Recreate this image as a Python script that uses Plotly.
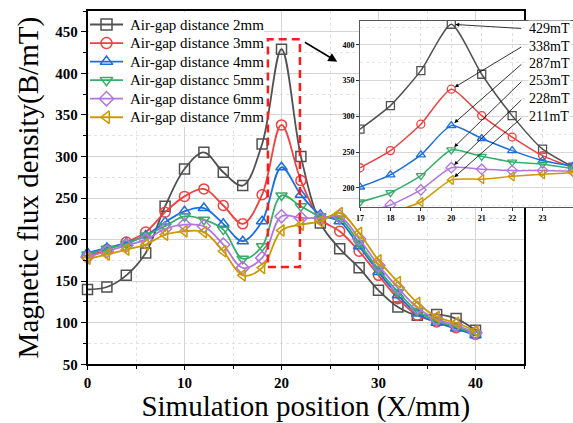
import plotly.graph_objects as go

# ---- data -------------------------------------------------------------
positions = [0, 2, 4, 6, 8, 10, 12, 14, 16, 18, 20, 22, 24, 26, 28, 30, 32, 34, 36, 38, 40]

gap_2mm = [140, 143, 157, 184, 240, 285, 305, 281, 265, 315, 429, 300, 220, 189, 166, 139, 119, 109, 110, 105, 91]
gap_3mm = [180, 188, 197, 209, 233, 252, 261, 241, 219, 254, 338, 271, 225, 210, 186, 157, 129, 109, 101, 94, 86]
gap_4mm = [184, 190, 196, 205, 221, 234, 238, 219, 198, 222, 287, 254, 230, 222, 192, 161, 133, 111, 100, 93, 85]
gap_5mm = [182, 189, 195, 205, 216, 228, 224, 212, 177, 192, 253, 240, 228, 225, 196, 164, 137, 114, 102, 95, 86]
gap_6mm = [179, 186, 193, 200, 213, 218, 216, 194, 166, 178, 228, 226, 226, 228, 201, 169, 142, 118, 104, 97, 88]
gap_7mm = [177, 182, 188, 194, 206, 210, 209, 186, 157, 166, 211, 218, 222, 232, 208, 175, 149, 124, 107, 100, 90]

# finer sampling around the peak (inset)
zoom_positions = [17, 18, 19, 20, 21, 22, 23, 24]
zoom_2mm = [282, 315, 364, 429, 359, 301, 254, 229]
zoom_3mm = [228, 252, 289, 338, 301, 271, 245, 228]
zoom_4mm = [201, 218, 246, 287, 269, 252, 238, 230]
zoom_5mm = [180, 193, 217, 253, 244, 236, 233, 227]
zoom_6mm = [164, 176, 197, 228, 226, 224, 224, 223]
zoom_7mm = [150, 165, 180, 211, 212, 216, 219, 221]

series_names = [
    "Air-gap distance 2mm",
    "Air-gap distance 3mm",
    "Air-gap distance 4mm",
    "Air-gap distancc 5mm",
    "Air-gap distance 6mm",
    "Air-gap distance 7mm",
]
main_series = [gap_2mm, gap_3mm, gap_4mm, gap_5mm, gap_6mm, gap_7mm]
zoom_series = [zoom_2mm, zoom_3mm, zoom_4mm, zoom_5mm, zoom_6mm, zoom_7mm]
colors = ["#515151", "#F14040", "#1A6FDF", "#37AD6B", "#B177DE", "#CC9900"]
symbols = ["square-open", "circle-open", "triangle-up-open", "triangle-down-open",
           "diamond-open", "triangle-left-open"]

# ---- layout constants --------------------------------------------------
W, H = 573, 423
SERIF = "Liberation Serif, Times New Roman, serif"
main_px = dict(left=87.5, right=524, top=11, bottom=364.3)
inset_px = dict(left=360, right=573, top=20.7, bottom=207)
highlight_box = dict(x0=18.6, x1=21.9, y0=167, y1=441)   # dashed window in main axes
pointer = dict(x0=22.25, y0=438.5, x1=25.75, y1=414)     # arrow towards the inset
label_x = 22.52                                          # inset-axis x of value labels
label_y = [423.0, 398.4, 374.6, 350.5, 324.9, 299.4]     # inset-axis y of value labels
peak_x = 20

# key panel geometry (pixels from top-left)
key_box = dict(x0=89, x1=264, y0=12, y1=127)
key_row0, key_row_step = 24.5, 18.55
key_line = (90, 123)
key_text_x = 128


def dom_x(a, b):
    return [a / W, b / W]


def dom_y(top, bottom):
    return [1 - bottom / H, 1 - top / H]


fig = go.Figure()

for name, ys, c, s in zip(series_names, main_series, colors, symbols):
    fig.add_trace(go.Scatter(
        x=positions, y=ys, name=name, mode="lines+markers",
        line=dict(color=c, width=1.8, shape="spline", smoothing=1.0),
        marker=dict(symbol=s, size=10, color=c, line=dict(color=c, width=1.5)),
        cliponaxis=False, xaxis="x", yaxis="y", showlegend=False,
    ))

for ys, c, s in zip(zoom_series, colors, symbols):
    fig.add_trace(go.Scatter(
        x=zoom_positions, y=ys, mode="lines+markers", showlegend=False,
        line=dict(color=c, width=1.5, shape="spline", smoothing=0.6),
        marker=dict(symbol=s, size=8, color=c, line=dict(color=c, width=1.3)),
        xaxis="x2", yaxis="y2",
    ))

# key: sample line + symbol for each series, on a pixel-scaled panel axis
for i, (name, c, s) in enumerate(zip(series_names, colors, symbols)):
    row = key_row0 + i * key_row_step
    mid = (key_line[0] + key_line[1]) / 2
    fig.add_trace(go.Scatter(
        x=[key_line[0], mid, key_line[1]], y=[row, row, row],
        mode="lines+markers", showlegend=False, hoverinfo="skip",
        line=dict(color=c, width=1.8),
        marker=dict(symbol=s, size=11, color=c, opacity=[0, 1, 0],
                    line=dict(color=c, width=1.5)),
        cliponaxis=False, xaxis="x3", yaxis="y3",
    ))
    fig.add_annotation(x=key_text_x, y=row, xref="x3", yref="y3", text=name,
                       showarrow=False, xanchor="left", yanchor="middle",
                       font=dict(family=SERIF, size=15, color="black"))

axis_font = dict(family=SERIF, size=15, color="black", weight="bold")
inset_font = dict(family=SERIF, size=8, color="black", weight="bold")

fig.update_layout(
    width=W, height=H,
    margin=dict(l=0, r=0, t=0, b=0),
    paper_bgcolor="white", plot_bgcolor="white",
    font=dict(family=SERIF, color="black"),
    showlegend=False,
    xaxis=dict(
        domain=dom_x(main_px["left"], main_px["right"]), anchor="y",
        range=[0, 45], tick0=0, dtick=10,
        ticks="outside", ticklen=4, tickwidth=1.3, tickcolor="black",
        showline=True, linecolor="black", linewidth=1.5, mirror=True,
        showgrid=True, gridcolor="#d4d4d4", gridwidth=1, zeroline=False,
        minor=dict(dtick=5, ticks="outside", ticklen=3, tickcolor="black",
                   showgrid=True, gridcolor="#e2e2e2", griddash="dot"),
        tickfont=axis_font, automargin=False,
        title=dict(text="Simulation position (X/mm)", standoff=7,
                   font=dict(family=SERIF, size=29, color="black")),
    ),
    yaxis=dict(
        domain=dom_y(main_px["top"], main_px["bottom"]), anchor="x",
        range=[50, 475], tick0=50, dtick=50,
        ticks="outside", ticklen=5, tickwidth=1.3, tickcolor="black",
        showline=True, linecolor="black", linewidth=1.5, mirror=True,
        showgrid=True, gridcolor="#d4d4d4", gridwidth=1, zeroline=False,
        minor=dict(dtick=25, ticks="outside", ticklen=3, tickcolor="black",
                   showgrid=True, gridcolor="#e2e2e2", griddash="dot"),
        tickfont=axis_font, automargin=False,
        title=dict(text="Magnetic flux density(B/mT)", standoff=8,
                   font=dict(family=SERIF, size=29, color="black")),
    ),
    xaxis2=dict(
        domain=dom_x(inset_px["left"], inset_px["right"]), anchor="y2",
        range=[17, 24], dtick=1,
        ticks="outside", ticklen=3, tickcolor="#333333",
        showline=True, linecolor="#555555", linewidth=1, mirror=True,
        showgrid=True, gridcolor="#dddddd", griddash="dot", zeroline=False,
        tickfont=inset_font, automargin=False,
    ),
    yaxis2=dict(
        domain=dom_y(inset_px["top"], inset_px["bottom"]), anchor="x2",
        range=[173, 434], tick0=200, dtick=50,
        ticks="outside", ticklen=3, tickcolor="#333333",
        showline=True, linecolor="#555555", linewidth=1, mirror=True,
        showgrid=True, gridcolor="#d8d8d8", zeroline=False,
        minor=dict(dtick=25, showgrid=True, gridcolor="#e6e6e6", griddash="dot"),
        tickfont=inset_font, automargin=False,
    ),
    # pixel-scaled panel holding the key (its white background hides the grid)
    xaxis3=dict(domain=dom_x(key_box["x0"], key_box["x1"]),
                range=[key_box["x0"], key_box["x1"]], anchor="y3",
                visible=False, fixedrange=True),
    yaxis3=dict(domain=dom_y(key_box["y0"], key_box["y1"]),
                range=[key_box["y1"], key_box["y0"]], anchor="x3",
                visible=False, fixedrange=True),
)

# white panel behind the inset
fig.add_shape(type="rect", xref="x2 domain", yref="y2 domain",
              x0=0, x1=1, y0=0, y1=1, fillcolor="white", line_width=0, layer="below")

# dashed window around the peak
fig.add_shape(type="rect", xref="x", yref="y",
              x0=highlight_box["x0"], x1=highlight_box["x1"],
              y0=highlight_box["y0"], y1=highlight_box["y1"],
              line=dict(color="#FF1A1A", width=2.5, dash="8px,5px"),
              fillcolor="rgba(0,0,0,0)")

# arrow from the window to the inset
fig.add_annotation(x=pointer["x1"], y=pointer["y1"], ax=pointer["x0"], ay=pointer["y0"],
                   xref="x", yref="y", axref="x", ayref="y", text="",
                   showarrow=True, arrowhead=2, arrowsize=1.2, arrowwidth=1.5,
                   arrowcolor="black")

# peak values in the inset
for ys, ly in zip(zoom_series, label_y):
    peak = ys[zoom_positions.index(peak_x)]
    fig.add_annotation(x=peak_x, y=peak, ax=label_x - 0.17, ay=ly,
                       xref="x2", yref="y2", axref="x2", ayref="y2", text="",
                       showarrow=True, arrowhead=2, arrowsize=1, arrowwidth=0.8,
                       arrowcolor="black", standoff=4)
    fig.add_annotation(x=label_x, y=ly, xref="x2", yref="y2", text=f"{peak}mT",
                       showarrow=False, xanchor="left", yanchor="middle",
                       bgcolor="white", borderpad=0,
                       font=dict(family=SERIF, size=14, color="black"))

fig.write_html("out.html")
